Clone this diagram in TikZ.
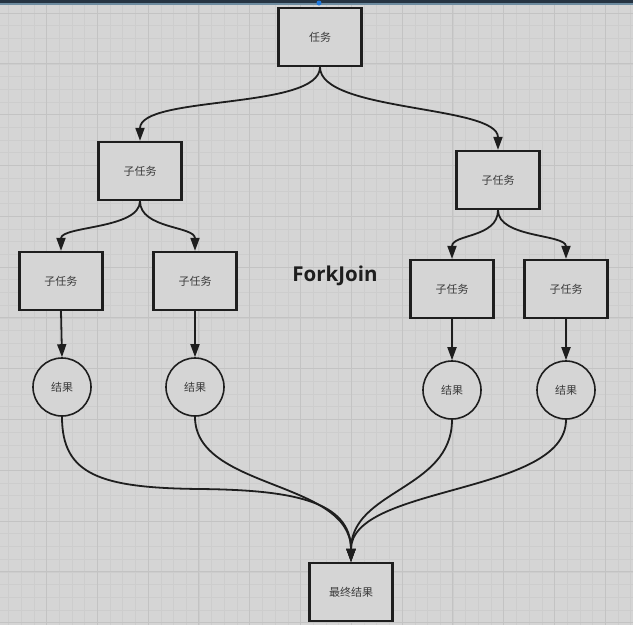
\documentclass[tikz,border=0pt]{standalone}
\usepackage{fontspec}
\newfontfamily\cjk{Noto Sans CJK SC}
\newfontfamily\fjfont{Open Sans}
\usetikzlibrary{arrows.meta}
\definecolor{bg}{RGB}{213,213,213}
\definecolor{gminor}{RGB}{205,205,205}
\definecolor{gmajor}{RGB}{195,195,195}
\definecolor{ink}{RGB}{30,30,30}
\definecolor{lbl}{RGB}{60,60,60}
\definecolor{barA}{RGB}{38,52,66}
\definecolor{barB}{RGB}{110,140,160}
\definecolor{dotc}{RGB}{30,120,220}
\begin{document}
\begin{tikzpicture}[x=1pt,y=-1pt,
  box/.style={draw=ink,line width=2.2pt,fill=bg,minimum width=83pt,minimum height=58pt,inner sep=0pt,
    font=\cjk\fontsize{11}{13}\selectfont,text=lbl},
  res/.style={circle,draw=ink,line width=1.6pt,fill=bg,minimum size=58pt,inner sep=0pt,
    font=\cjk\fontsize{11}{13}\selectfont,text=lbl},
  arr/.style={draw=ink,line width=1.8pt,-{Triangle[length=13pt,width=9pt]}},
  title/.style={font=\fjfont\bfseries\fontsize{20.5}{24}\selectfont,text=ink}]
\useasboundingbox (0,0) rectangle (633,625);
\fill[bg] (0,0) rectangle (633,625);
% grid
\foreach \k in {-4,...,46} {\draw[gminor,line width=0.6pt] ({46.5+\k*12.7},0) -- ++(0,625);}
\foreach \k in {-1,...,48} {\draw[gminor,line width=0.6pt] (0,{13+\k*12.7}) -- ++(633,0);}
\foreach \k in {-1,...,12} {\draw[gmajor,line width=1pt] ({46.5+\k*50.8},0) -- ++(0,625);}
\foreach \k in {0,...,12} {\draw[gmajor,line width=1pt] (0,{13+\k*50.8}) -- ++(633,0);}
% top bar
\fill[barA] (0,0) rectangle (633,3);
\fill[barB] (0,3) rectangle (633,5);
\fill[dotc] (319,3) circle (2.5);
% nodes
\node[box] (t) at (320,37) {任务};
\node[box] (s1) at (140,171) {子任务};
\node[box] (s2) at (498,180) {子任务};
\node[box] (a) at (61,281) {子任务};
\node[box] (b) at (195,281) {子任务};
\node[box] (c) at (452,289) {子任务};
\node[box] (d) at (566,289) {子任务};
\node[res] (ra) at (62,387) {结果};
\node[res] (rb) at (195,387) {结果};
\node[res] (rc) at (452,390) {结果};
\node[res] (rd) at (566,390) {结果};
\node[box] (f) at (351,592) {最终结果};
\node[title] (fj) at (335,276) {ForkJoin};
% edges
\draw[arr] (t.south) .. controls +(0,43) and +(0,-46) .. (s1.north);
\draw[arr] (t.south) .. controls +(0,45) and +(0,-45) .. (s2.north);
\draw[arr] (s1.south) .. controls +(0,28) and +(0,-25) .. (a.north);
\draw[arr] (s1.south) .. controls +(0,28) and +(0,-25) .. (b.north);
\draw[arr] (s2.south) .. controls +(0,28) and +(0,-25) .. (c.north);
\draw[arr] (s2.south) .. controls +(0,28) and +(0,-25) .. (d.north);
\draw[arr] (a.south) -- (ra.north);
\draw[arr] (b.south) -- (rb.north);
\draw[arr] (c.south) -- (rc.north);
\draw[arr] (d.south) -- (rd.north);
\draw[arr] (ra.south) .. controls +(0,58) and (100,488) .. (200,489) .. controls (290,490) and (351,500) .. (f.north);
\draw[arr] (rb.south) .. controls +(0,73) and +(0,-82) .. (f.north);
\draw[arr] (rc.south) .. controls +(0,70) and +(0,-72) .. (f.north);
\draw[arr] (rd.south) .. controls +(0,75) and +(0,-77) .. (f.north);
\end{tikzpicture}
\end{document}
